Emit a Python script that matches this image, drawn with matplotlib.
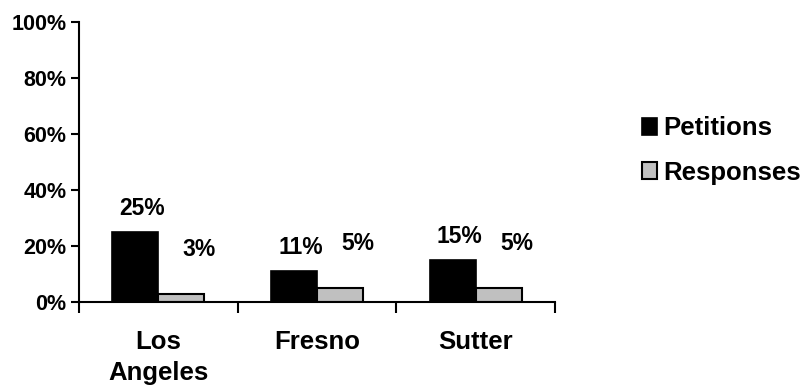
import matplotlib
matplotlib.use("Agg")
import matplotlib.pyplot as plt
from matplotlib.ticker import FuncFormatter

plt.rcParams['font.family'] = ['Liberation Sans', 'DejaVu Sans']
plt.rcParams['font.weight'] = 'bold'

# Data
counties = ['Los\nAngeles', 'Fresno', 'Sutter']
petitions = [0.25, 0.11, 0.15]
responses = [0.03, 0.05, 0.05]
series_names = ['Petitions', 'Responses']
y_ticks = [0.0, 0.2, 0.4, 0.6, 0.8, 1.0]

W, H = 802, 387
fig = plt.figure(figsize=(W / 100, H / 100), dpi=100)
ax = fig.add_axes([79 / W, 1 - 302 / H, 476 / W, 280 / H])

x = list(range(len(counties)))
bw = 0.29
colors = ['#000000', '#C0C0C0']

b1 = ax.bar([i - bw / 2 for i in x], petitions, width=bw, color=colors[0],
            edgecolor='black', linewidth=1.2, label=series_names[0])
b2 = ax.bar([i + bw / 2 for i in x], responses, width=bw, color=colors[1],
            edgecolor='black', linewidth=1.5, label=series_names[1])

# Data labels (Excel-style offsets)
for rect, v in zip(b1, petitions):
    ax.annotate(f'{v:.0%}', (rect.get_x() + rect.get_width() / 2, rect.get_height()),
                xytext=(5, 17), textcoords='offset points',
                ha='center', va='center', fontsize=16.5, fontweight='bold')
for rect, v in zip(b2, responses):
    ax.annotate(f'{v:.0%}', (rect.get_x() + rect.get_width() / 2, rect.get_height()),
                xytext=(13, 32), textcoords='offset points',
                ha='center', va='center', fontsize=16.5, fontweight='bold')

ax.set_xlim(-0.5, len(counties) - 0.5)
ax.set_ylim(0, 1.0)
ax.set_yticks(y_ticks)
ax.yaxis.set_major_formatter(FuncFormatter(lambda v, p: f'{v:.0%}'))
ax.tick_params(axis='y', direction='out', length=6, width=1.5, labelsize=15.5, pad=3)

ax.set_xticks([i - 0.5 for i in range(len(counties) + 1)])
ax.set_xticklabels([])
ax.tick_params(axis='x', which='major', direction='out', length=8, width=1.5)
ax.set_xticks(x, minor=True)
ax.set_xticklabels(counties, minor=True, fontsize=18.5, fontweight='bold',
                   linespacing=1.4, va='top')
ax.tick_params(axis='x', which='minor', length=0, pad=20)

for s in ['top', 'right']:
    ax.spines[s].set_visible(False)
for s in ['left', 'bottom']:
    ax.spines[s].set_linewidth(1.5)

leg = fig.legend(handles=[b1, b2], labels=series_names, loc='center left',
                 bbox_to_anchor=(642 / W, 1 - 150.5 / H), frameon=False,
                 fontsize=18.5, handlelength=0.6, handleheight=0.6,
                 handletextpad=0.22, labelspacing=0.78, borderpad=0,
                 borderaxespad=0)

fig.savefig('out.png', dpi=100)
